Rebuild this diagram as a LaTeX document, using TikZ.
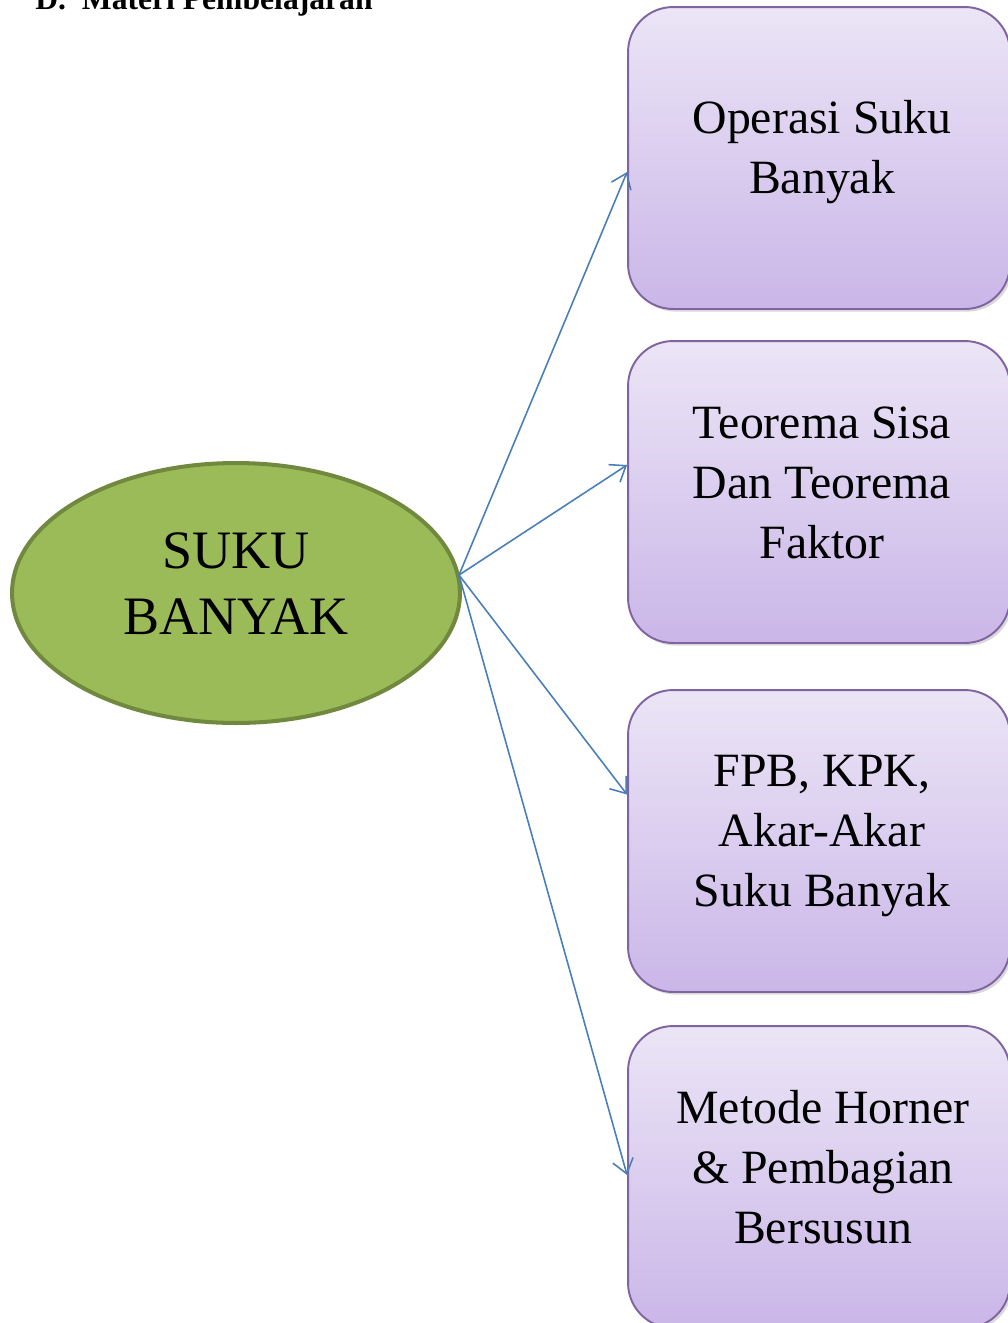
\documentclass[tikz,border=0pt]{standalone}
\usepackage{fontspec}
\setmainfont{Liberation Serif}
\usepackage{tikz}
\usetikzlibrary{shapes.geometric,arrows.meta,shadows}

\definecolor{boxtop}{HTML}{EBE5F6}
\definecolor{boxbot}{HTML}{CAB6E8}
\definecolor{boxline}{HTML}{8064A2}
\definecolor{hubfill}{HTML}{9BBB59}
\definecolor{hubline}{HTML}{71893F}
\definecolor{linkblue}{HTML}{4A7EBB}

\tikzset{
  topicbox/.style={rectangle, rounded corners=0.9cm, draw=boxline, line width=1.1pt,
    top color=boxtop, bottom color=boxbot, minimum width=7.64cm, minimum height=6.04cm,
    drop shadow={shadow xshift=1.5pt, shadow yshift=-1.5pt, opacity=0.3}},
  topictext/.style={align=center, font=\fontsize{27.2}{34}\selectfont},
  hub/.style={ellipse, draw=hubline, line width=2.3pt, fill=hubfill,
    minimum width=8.96cm, minimum height=5.2cm},
  link/.style={draw=linkblue, line width=0.9pt, -{Straight Barb[length=2.8mm,width=4.2mm]}}
}

\begin{document}
\begin{tikzpicture}[x=0.02cm, y=-0.02cm]
    \useasboundingbox (0,0) rectangle (1008,1323);

    % heading (cut off at the top)
    \node[anchor=base west, inner sep=0pt, font=\fontsize{18}{22}\bfseries\selectfont] (head) at (35,9) {D.\hspace{9pt}Materi Pembelajaran};

    % centre
    \node[hub] (suku) at (236,593) {};
    \node[align=center, font=\fontsize{30.8}{37.5}\selectfont] (sukutext) at (236,584) {SUKU\\BANYAK};
    \coordinate (hubout) at (459,575);

    % topics
    \node[topicbox] (box1) at (819,158) {};
    \node[topicbox] (box2) at (819,492) {};
    \node[topicbox] (box3) at (819,841) {};
    \node[topicbox] (box4) at (819,1177) {};

    \node[topictext] (text1) at (822,152) {Operasi Suku\\Banyak};
    \node[topictext] (text2) at (822,483) {Teorema Sisa\\Dan Teorema\\Faktor};
    \node[topictext] (text3) at (822,836) {FPB, KPK,\\Akar-Akar\\Suku Banyak};
    \node[topictext] (text4) at (823,1167) {Metode Horner\\\& Pembagian\\Bersusun};

    % arrows
    \draw[link] (hubout) -- ([yshift=-0.28cm]box1.west);
    \draw[link] (hubout) -- ([yshift=0.54cm]box2.west);
    \draw[link] (hubout) -- ([yshift=0.93cm]box3.west);
    \draw[link] (hubout) -- ([yshift=0.04cm]box4.west);

\end{tikzpicture}
\end{document}
